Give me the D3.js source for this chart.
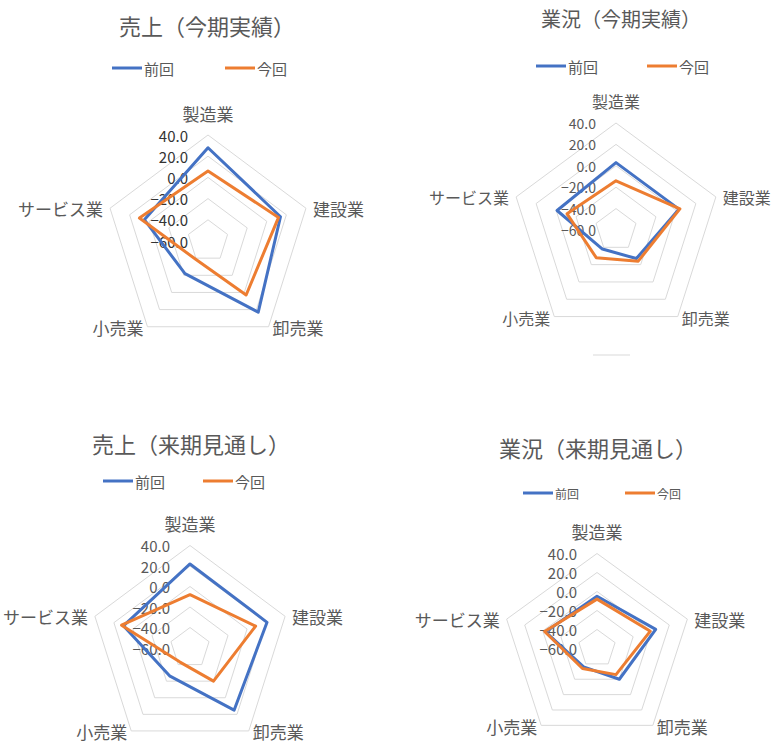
<!DOCTYPE html>
<html>
<head>
<meta charset="utf-8">
<script src="https://cdn.jsdelivr.net/npm/d3@7"></script>
<style>
  body { margin: 0; background: #fff; }
  text { font-family: "Noto Sans CJK JP", "Noto Sans", sans-serif; }
</style>
</head>
<body>
<div id="graph"></div>
<script>
let w = 773;
let h = 746;

// data
let categories = ["製造業", "建設業", "卸売業", "小売業", "サービス業"];
let seriesNames = ["前回", "今回"];
let tickValues = [-60, -40, -20, 0, 20, 40];
let chartTitles = ["売上（今期実績）", "業況（今期実績）", "売上（来期見通し）", "業況（来期見通し）"];

let salesActualPrev = [28, 14, 23, -22, 5];
let salesActualNow = [6, 12, 3, -39, 10];
let condActualPrev = [3, 3, -27, -38, -1];
let condActualNow = [-14, 4, -24, -28, -11];
let salesOutlookPrev = [22, 21, 15, -26, 10];
let salesOutlookNow = [-8, 9, -20, -43, 12];
let condOutlookPrev = [-5, 5, -20, -36, -3];
let condOutlookNow = [-8, -1, -26, -34, -2];

let seriesColors = ["#4472C4", "#ED7D31"];

// layout of each small chart (positions only)
let layouts = [
  {cx: 208, cy: 241, rx: 103, ry: 106, titleX: 207, titleY: 25, titleSize: 22,
   legY: 68, legX: [112, 225], legSize: 15, catSize: 17, tickSize: 15, tickColor: "#333"},
  {cx: 616, cy: 230, rx: 105, ry: 107, titleX: 621, titleY: 18, titleSize: 20,
   legY: 66, legX: [536, 647], legSize: 15, catSize: 16, tickSize: 14, tickColor: "#595959"},
  {cx: 190, cy: 648, rx: 100, ry: 102.5, titleX: 191, titleY: 443, titleSize: 22,
   legY: 481, legX: [103, 203], legSize: 15, catSize: 17, tickSize: 15, tickColor: "#595959"},
  {cx: 597, cy: 648.5, rx: 95, ry: 95, titleX: 598, titleY: 447, titleSize: 22,
   legY: 493, legX: [523, 625], legSize: 12, catSize: 17, tickSize: 15, tickColor: "#595959"}
];

let chartData = [
  [salesActualPrev, salesActualNow],
  [condActualPrev, condActualNow],
  [salesOutlookPrev, salesOutlookNow],
  [condOutlookPrev, condOutlookNow]
];

let viz = d3.select("#graph")
  .append("svg")
    .attr("width", w)
    .attr("height", h)
;

let angleScale = d3.scaleLinear().domain([0, categories.length]).range([0, 2 * Math.PI]);

function drawRadar(L, title, seriesList){
  let g = viz.append("g").attr("class", "radar");
  let rScale = d3.scaleLinear().domain([-60, 40]).range([0, 1]);

  function px(i, v){
    return L.cx + Math.sin(angleScale(i)) * rScale(v) * L.rx;
  }
  function py(i, v){
    return L.cy - Math.cos(angleScale(i)) * rScale(v) * L.ry;
  }

  // title
  g.append("text")
    .attr("x", L.titleX)
    .attr("y", L.titleY)
    .attr("text-anchor", "middle")
    .attr("dominant-baseline", "central")
    .attr("font-size", L.titleSize)
    .attr("fill", "#595959")
    .text(title);

  // legend
  seriesNames.forEach(function(name, k){
    let x0 = L.legX[k];
    g.append("line")
      .attr("x1", x0).attr("x2", x0 + 30)
      .attr("y1", L.legY).attr("y2", L.legY)
      .attr("stroke", seriesColors[k])
      .attr("stroke-width", 3);
    g.append("text")
      .attr("x", x0 + 32)
      .attr("y", L.legY)
      .attr("dominant-baseline", "central")
      .attr("font-size", L.legSize)
      .attr("fill", "#595959")
      .text(name);
  });

  // grid rings
  let ring = d3.line().curve(d3.curveLinearClosed);
  tickValues.slice(1).forEach(function(t){
    let pts = categories.map(function(c, i){ return [px(i, t), py(i, t)]; });
    g.append("path")
      .attr("d", ring(pts))
      .attr("fill", "none")
      .attr("stroke", "#d9d9d9")
      .attr("stroke-width", 1);
  });

  // category labels
  let offs = [[0, -22, "middle"], [7, 0, "start"], [4, 1, "start"], [-4, 1, "end"], [-7, 0, "end"]];
  categories.forEach(function(c, i){
    g.append("text")
      .attr("x", px(i, 40) + offs[i][0])
      .attr("y", py(i, 40) + offs[i][1])
      .attr("text-anchor", offs[i][2])
      .attr("dominant-baseline", "central")
      .attr("font-size", L.catSize)
      .attr("fill", "#595959")
      .text(c);
  });

  // tick labels
  tickValues.forEach(function(t){
    g.append("text")
      .attr("x", L.cx - 20)
      .attr("y", py(0, t))
      .attr("text-anchor", "end")
      .attr("dominant-baseline", "central")
      .attr("font-size", L.tickSize)
      .attr("fill", L.tickColor)
      .text(d3.format(".1f")(t));
  });

  // series
  let line = d3.line()
    .x(function(d, i){ return px(i, d); })
    .y(function(d, i){ return py(i, d); })
    .curve(d3.curveLinearClosed);

  seriesList.forEach(function(values, k){
    g.append("path")
      .datum(values)
      .attr("d", line)
      .attr("fill", "none")
      .attr("stroke", seriesColors[k])
      .attr("stroke-width", 3)
      .attr("stroke-linejoin", "round");
  });
}

layouts.forEach(function(L, n){
  drawRadar(L, chartTitles[n], chartData[n]);
});

// stray short rule under the upper right chart
viz.append("line")
  .attr("x1", 593).attr("x2", 630)
  .attr("y1", 355).attr("y2", 355)
  .attr("stroke", "#d9d9d9")
  .attr("stroke-width", 1);
</script>
</body>
</html>
